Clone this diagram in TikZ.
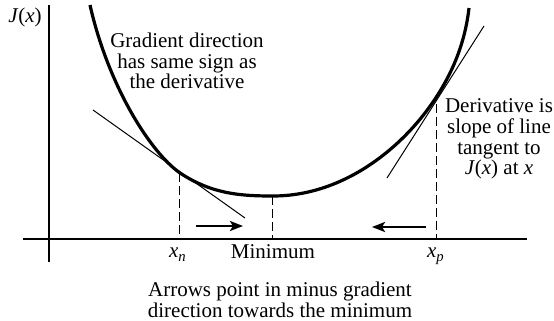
\documentclass[tikz,border=0pt]{standalone}
\usepackage{fontspec}
\setmainfont{Liberation Serif}
\usetikzlibrary{arrows.meta}
\begin{document}
\begin{tikzpicture}[x=0.5pt,y=-0.5pt,
  axis/.style={line width=1pt},
  curve/.style={line width=1.6pt},
  tangent/.style={line width=0.5pt},
  guide/.style={line width=0.5pt, dash pattern=on 4.5pt off 2pt},
  movearrow/.style={line width=1.4pt, -{Stealth[length=6.5pt,width=5pt,inset=1.5pt]}},
  lbl/.style={font=\fontsize{10.5}{10.3}\selectfont, inner sep=0pt, align=center}]
\useasboundingbox (0,0) rectangle (554,321);
% axes
\coordinate (ytop) at (49,5);
\coordinate (ybot) at (49,262);
\coordinate (xleft) at (23,239);
\coordinate (xright) at (527,239);
\draw[axis] (ybot) -- (ytop);
\draw[axis] (xleft) -- (xright);
% curve points
\coordinate (ctop) at (90,5);
\coordinate (pn) at (180,173);
\coordinate (pmin) at (273,196);
\coordinate (pp) at (437,96);
\coordinate (cend) at (469,8);
\draw[curve] (ctop) .. controls (108,85) and (150,152) .. (pn)
  .. controls (212,194) and (240,196) .. (pmin)
  .. controls (345,196) and (405,146) .. (pp)
  .. controls (457,65) and (466,35) .. (cend);
% tangents
\coordinate (tla) at (93,110);
\coordinate (tlb) at (245,218);
\coordinate (tra) at (484,26);
\coordinate (trb) at (387,178);
\draw[tangent] (tla) -- (tlb);
\draw[tangent] (tra) -- (trb);
% guides
\coordinate (an) at (180,239);
\coordinate (amin) at (273,239);
\coordinate (ap) at (437,239);
\coordinate (ppd) at (437,104);
\draw[guide] (pn) -- (an);
\draw[guide] (pmin) -- (amin);
\draw[guide] (ppd) -- (ap);
% arrows
\coordinate (ra) at (196,226);
\coordinate (rb) at (243,226);
\coordinate (la) at (426,227);
\coordinate (lb) at (372,227);
\draw[movearrow] (ra) -- (rb);
\draw[movearrow] (la) -- (lb);
% labels
\node[lbl] (jx) at (25,17) {\textit{J}(\textit{x})};
\node[lbl, anchor=base] (xn) at (178,258) {\textit{x}\textsubscript{\textit{n}}};
\node[lbl, anchor=base] (minl) at (273,259) {Minimum};
\node[lbl, anchor=base] (xp) at (436,258) {\textit{x}\textsubscript{\textit{p}}};
\node[lbl] (grad) at (187,61) {Gradient direction\\has same sign as\\the derivative};
\node[lbl] (deriv) at (499,139) {Derivative is\\slope of line\\tangent to\\\textit{J}(\textit{x}) at \textit{x}};
\node[lbl] (arr) at (280,300) {Arrows point in minus gradient\\direction towards the minimum};
\end{tikzpicture}
\end{document}
